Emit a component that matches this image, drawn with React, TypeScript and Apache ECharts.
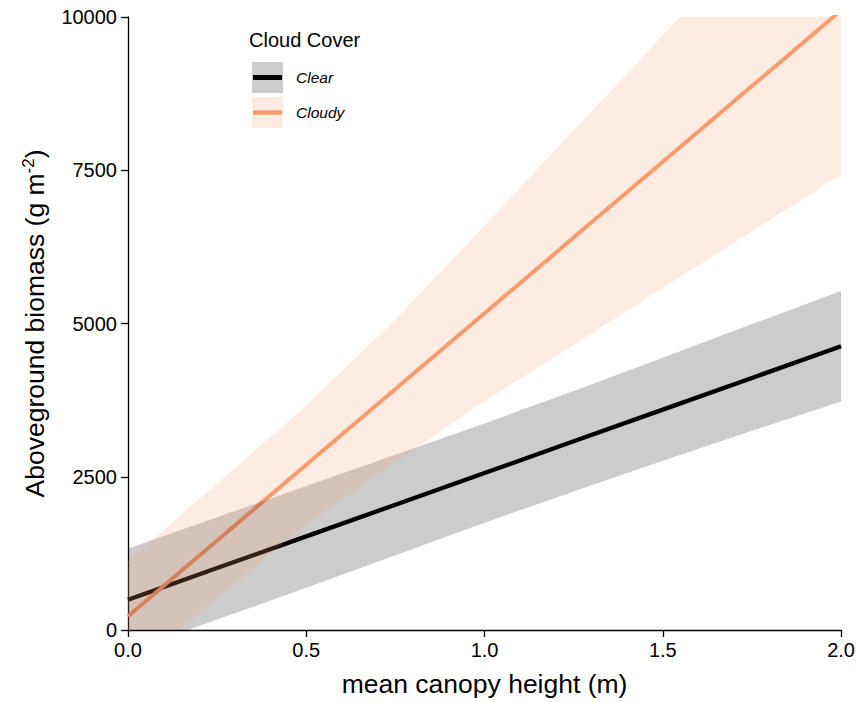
import React, { useEffect, useRef } from "react";
import * as echarts from "echarts";

// Heights (m) at which the fits and their confidence bands were read
const heights = [0, 0.25, 0.5, 0.75, 1.0, 1.25, 1.5, 1.75, 2.0];

// Clear sky fit and 95% band (g m-2)
const clearFit = [493, 1010, 1527, 2044, 2561, 3078, 3595, 4112, 4629];
const clearLower = [-350, 170, 690, 1220, 1750, 2260, 2760, 3250, 3730];
const clearUpper = [1330, 1840, 2350, 2860, 3370, 3900, 4440, 4990, 5530];

// Cloudy fit and 95% band (g m-2)
const cloudyFit = [223, 1459, 2695, 3931, 5166, 6402, 7638, 8874, 10108];
const cloudyLower = [-670, 520, 1730, 2740, 3730, 4650, 5580, 6500, 7430];
const cloudyUpper = [1120, 2390, 3660, 5060, 6600, 8150, 9700, 11250, 12800];

const legendTitle = "Cloud Cover";
const groupNames = ["Clear", "Cloudy"];

const FONT = "Liberation Sans";
const CLEAR_LINE = "#000000";
const CLOUDY_LINE = "#FA9B6E";
const CLEAR_FILL = "rgba(0,0,0,0.2)";
const CLOUDY_FILL = "rgba(250,155,110,0.2)";

const pairs = (ys: number[]) => heights.map((x, i) => [x, ys[i]]);
const ribbonRows = (lo: number[], hi: number[]) => heights.map((x, i) => [x, lo[i], hi[i]]);

export default function App() {
  const ref = useRef<HTMLDivElement>(null);

  useEffect(() => {
    document.body.style.margin = "0";
    if (!ref.current) return;
    const chart = echarts.init(ref.current, undefined, { renderer: "svg" });

    const ribbon = (name: string, lo: number[], hi: number[], fill: string, z: number) => ({
      name,
      type: "custom",
      clip: true,
      silent: true,
      z,
      data: ribbonRows(lo, hi),
      encode: { x: 0, y: [1, 2] },
      renderItem: (params: any, api: any) => {
        if (params.dataIndex !== 0) return null;
        const upper = heights.map((x, i) => api.coord([x, hi[i]]));
        const lower = heights.map((x, i) => api.coord([x, lo[i]])).reverse();
        const cs = params.coordSys;
        return {
          type: "polygon",
          shape: { points: upper.concat(lower) },
          style: { fill, stroke: "none" },
          clipPath: { type: "rect", shape: { x: cs.x, y: cs.y, width: cs.width, height: cs.height } },
        };
      },
    });

    chart.setOption({
      animation: false,
      backgroundColor: "#ffffff",
      textStyle: { fontFamily: FONT },
      grid: { left: 128, right: 15, top: 17, bottom: 70, containLabel: false },
      xAxis: {
        type: "value",
        min: 0,
        max: 2,
        interval: 0.5,
        name: "mean canopy height (m)",
        nameLocation: "middle",
        nameGap: 40,
        nameTextStyle: { fontSize: 26.5, color: "#000", fontFamily: FONT },
        axisLine: { show: true, onZero: false, lineStyle: { color: "#000", width: 1.3 } },
        axisTick: { show: true, length: 7, lineStyle: { color: "#000", width: 1.3 } },
        axisLabel: {
          fontSize: 20,
          color: "#000",
          fontFamily: FONT,
          margin: 10,
          formatter: (v: number) => v.toFixed(1),
        },
        splitLine: { show: false },
      },
      yAxis: {
        type: "value",
        min: 0,
        max: 10000,
        interval: 2500,
        name: "Aboveground biomass (g m{sup|-2})",
        nameLocation: "middle",
        nameGap: 79,
        nameTextStyle: {
          fontSize: 26.5,
          color: "#000",
          fontFamily: FONT,
          rich: {
            sup: { fontSize: 17, color: "#000", fontFamily: FONT, verticalAlign: "top", padding: [0, 0, 12, 0] },
          },
        },
        axisLine: { show: true, onZero: false, lineStyle: { color: "#000", width: 1.3 } },
        axisTick: { show: true, length: 7, lineStyle: { color: "#000", width: 1.3 } },
        axisLabel: {
          fontSize: 20,
          color: "#000",
          fontFamily: FONT,
          margin: 11,
          formatter: (v: number) => String(v),
        },
        splitLine: { show: false },
      },
      series: [
        {
          name: groupNames[0],
          type: "line",
          z: 1,
          data: pairs(clearFit),
          symbol: "none",
          lineStyle: { color: CLEAR_LINE, width: 4.3 },
          silent: true,
        },
        {
          name: groupNames[1],
          type: "line",
          z: 1,
          data: pairs(cloudyFit),
          symbol: "none",
          lineStyle: { color: CLOUDY_LINE, width: 4 },
          silent: true,
        },
        ribbon("clear-band", clearLower, clearUpper, CLEAR_FILL, 3),
        ribbon("cloudy-band", cloudyLower, cloudyUpper, CLOUDY_FILL, 4),
      ],
      graphic: [
        {
          type: "text",
          left: 249,
          top: 30,
          style: { text: legendTitle, fontSize: 20, fill: "#000", fontFamily: FONT },
        },
        { type: "rect", shape: { x: 252, y: 62, width: 31, height: 31 }, style: { fill: CLEAR_FILL } },
        { type: "rect", shape: { x: 252, y: 97, width: 31, height: 31 }, style: { fill: CLOUDY_FILL } },
        {
          type: "line",
          shape: { x1: 253, y1: 77.5, x2: 282, y2: 77.5 },
          style: { stroke: CLEAR_LINE, lineWidth: 5 },
        },
        {
          type: "line",
          shape: { x1: 253, y1: 112.5, x2: 282, y2: 112.5 },
          style: { stroke: CLOUDY_LINE, lineWidth: 4.5 },
        },
        {
          type: "text",
          x: 296,
          y: 77.5,
          style: {
            text: groupNames[0],
            fontSize: 15.5,
            fontStyle: "italic",
            fill: "#000",
            fontFamily: FONT,
            verticalAlign: "middle",
          },
        },
        {
          type: "text",
          x: 296,
          y: 112.5,
          style: {
            text: groupNames[1],
            fontSize: 15.5,
            fontStyle: "italic",
            fill: "#000",
            fontFamily: FONT,
            verticalAlign: "middle",
          },
        },
      ],
    });

    return () => chart.dispose();
  }, []);

  return <div ref={ref} style={{ width: 858, height: 702 }} />;
}
